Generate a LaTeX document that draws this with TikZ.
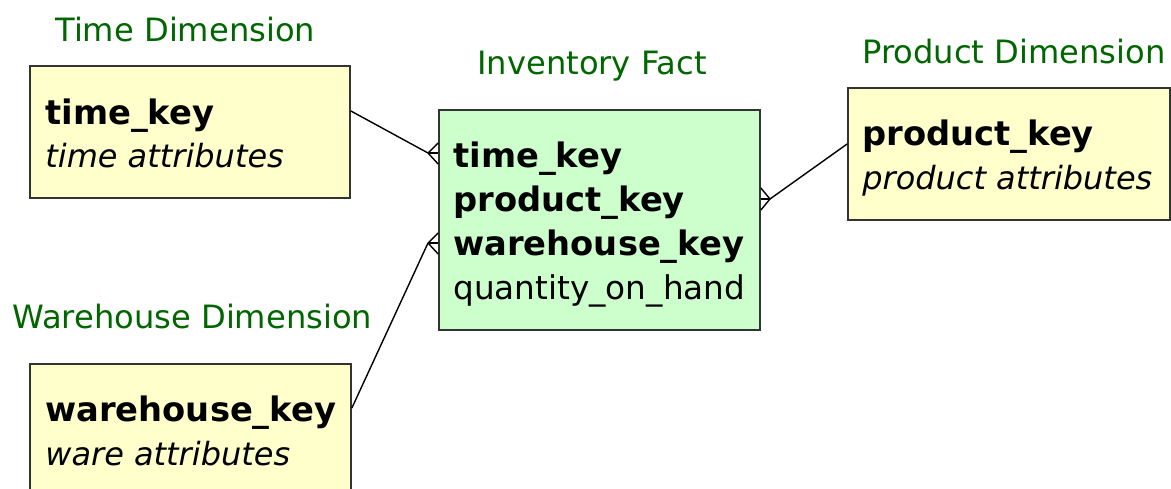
\documentclass[tikz,border=0pt]{standalone}
\usepackage{fontspec}
\setmainfont{DejaVu Sans}
\usetikzlibrary{fit}

\definecolor{titlegreen}{HTML}{006600}
\definecolor{dimfill}{HTML}{FFFFCC}
\definecolor{factfill}{HTML}{CCFFCC}

\tikzset{
  dimbox/.style={draw=black!80, line width=1pt, fill=dimfill, inner sep=0pt},
  factbox/.style={draw=black!80, line width=1pt, fill=factfill, inner sep=0pt},
  title/.style={anchor=base west, inner sep=0pt, text=titlegreen, font=\fontsize{18.3}{22}\selectfont},
  keytxt/.style={anchor=base west, inner sep=0pt, font=\fontsize{19.2}{22}\selectfont\bfseries},
  attrtxt/.style={anchor=base west, inner sep=0pt, font=\fontsize{18.2}{22}\selectfont\itshape},
  plaintxt/.style={anchor=base west, inner sep=0pt, font=\fontsize{18.6}{22}\selectfont},
  link/.style={draw=black, line width=0.8pt}
}

\begin{document}
\begin{tikzpicture}[x=0.02cm, y=-0.02cm]
\useasboundingbox (0,0) rectangle (1171,489);
\clip (0,0) rectangle (1171,489);

% Boxes
\node[dimbox, fit={(30,66) (350,198)}] (time) {};
\node[dimbox, fit={(30,364) (351,530)}] (ware) {};
\node[factbox, fit={(439,110) (760,330)}] (fact) {};
\node[dimbox, fit={(848,88) (1170,220)}] (prod) {};

% Titles
\node[title] (timetitle) at (55,42) {Time Dimension};
\node[title] (facttitle) at (477,75) {Inventory Fact};
\node[title] (prodtitle) at (862,64) {Product Dimension};
\node[title] (waretitle) at (12,329) {Warehouse Dimension};

% Texts in the boxes
\node[keytxt] (tk) at (45,125) {time\_key};
\node[attrtxt] (ta) at (45,168) {time attributes};

\node[keytxt] (ftk) at (453,168) {time\_key};
\node[keytxt] (fpk) at (453,212) {product\_key};
\node[keytxt] (fwk) at (453,256) {warehouse\_key};
\node[plaintxt] (fq) at (453,300) {quantity\_on\_hand};

\node[keytxt] (pk) at (862,146) {product\_key};
\node[attrtxt] (pa) at (862,190) {product attributes};

\node[keytxt] (wk) at (45,422) {warehouse\_key};
\node[attrtxt] (wa) at (45,466) {ware attributes};

% Connectors with crow's feet
\coordinate (tfoot) at (428,153);
\coordinate (wfoot) at (428,243);
\coordinate (pfoot) at (770,199);

\draw[link] (time.east |- 0,111) -- (tfoot);
\draw[link] (ware.east |- 0,408) -- (wfoot);
\draw[link] (prod.west |- 0,144) -- (pfoot);

\foreach \f/\dy in {tfoot/153, wfoot/243} {
  \draw[link] (\f) -- (fact.west |- 0,\dy-10);
  \draw[link] (\f) -- (fact.west |- 0,\dy);
  \draw[link] (\f) -- (fact.west |- 0,\dy+11);
}
\draw[link] (pfoot) -- (fact.east |- 0,188);
\draw[link] (pfoot) -- (fact.east |- 0,199);
\draw[link] (pfoot) -- (fact.east |- 0,210);
\end{tikzpicture}
\end{document}
